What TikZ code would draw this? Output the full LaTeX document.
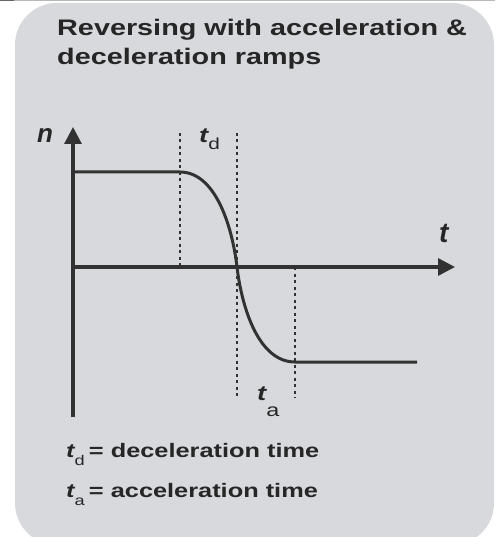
\documentclass[tikz,border=0pt]{standalone}
\usepackage{fontspec}
\setmainfont{Liberation Sans}
\usepackage{graphicx}
\usetikzlibrary{arrows.meta}
\definecolor{panel}{RGB}{216,217,221}
\definecolor{ink}{RGB}{38,38,38}
\definecolor{lineink}{RGB}{50,50,50}
\newcommand\hstretch[2][1.3]{\scalebox{#1}[1]{#2}}
\newcommand\fsz[1]{\fontsize{#1}{#1}\selectfont}
\begin{document}
\begin{tikzpicture}[x=1pt,y=1pt,
  axis/.style={draw=lineink, line width=3.2pt, -{Triangle[length=17pt,width=17pt]}},
  curve/.style={draw=lineink, line width=3pt},
  guide/.style={draw=lineink, line width=2.2pt, dash pattern=on 3pt off 3.5pt},
  txt/.style={inner sep=0pt, anchor=base west, text=ink, font=\bfseries},
]
\useasboundingbox (0,0) rectangle (495,-537);
\fill[white] (0,0) rectangle (495,-537);
\fill[panel, rounded corners=42pt] (15,-3) rectangle (494,-545);
\draw[line width=1.5pt, black!60] (0,-0.75) -- (14,-0.75);
\draw[line width=1pt, black!28] (14,-0.5) -- (495,-0.5);

% title
\node[txt] (title1) at (57,-36) {\hstretch[1.28]{\fsz{22.5}Reversing with acceleration \&}};
\node[txt] (title2) at (57,-65) {\hstretch[1.28]{\fsz{22.5}deceleration ramps}};

% coordinates
\coordinate (O) at (73,-267);
\coordinate (ytop) at (73,-127);
\coordinate (ybot) at (73,-417);
\coordinate (xend) at (455,-267);
\coordinate (hiL) at (73,-172);
\coordinate (hiR) at (180,-172);
\coordinate (mid) at (237,-267);
\coordinate (loL) at (295,-362);
\coordinate (loR) at (417,-362);
\coordinate (g1t) at (180,-133);
\coordinate (g1b) at (180,-267);
\coordinate (g2t) at (237,-133);
\coordinate (g2b) at (237,-398);
\coordinate (g3t) at (295,-267);
\coordinate (g3b) at (295,-398);

% guides
\draw[guide] (g1t) -- (g1b);
\draw[guide] (g2t) -- (g2b);
\draw[guide] (g3t) -- (g3b);

% axes
\draw[axis] (ybot) -- (ytop);
\draw[axis] (O) -- (xend);

% speed curve
\draw[curve] (hiL) -- (hiR) .. controls (215,-172) and (232,-225) .. (mid)
  .. controls (242,-309) and (259,-362) .. (loL) -- (loR);

% axis labels
\node[txt] (nlab) at (37,-143) {\fsz{26}\itshape n};
\node[txt] (tlab) at (439,-242) {\fsz{28}\itshape t};
\node[txt] (tdlab) at (199,-143) {\hstretch{\fsz{21}\itshape t\raisebox{-7pt}{\fsz{16}\mdseries\upshape d}}};
\node[txt] (talab) at (257,-400) {\hstretch{\fsz{21}\itshape t\raisebox{-16pt}{\fsz{18}\mdseries\upshape a}}};

% legend
\node[txt] (leg1) at (66,-457) {\hstretch{\fsz{19.5}{\itshape t}\raisebox{-8pt}{\fsz{14}\mdseries d}\,= deceleration time}};
\node[txt] (leg2) at (66,-497) {\hstretch{\fsz{19.5}{\itshape t}\raisebox{-8pt}{\fsz{14}\mdseries a}\,= acceleration time}};
\end{tikzpicture}
\end{document}
